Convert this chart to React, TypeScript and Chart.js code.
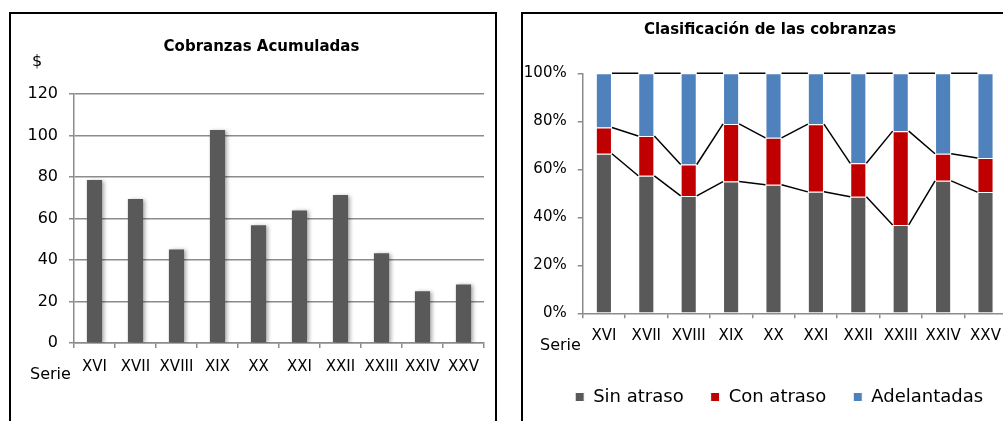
import React, { useEffect, useRef } from 'react';
import { Chart, registerables } from 'chart.js';

Chart.register(...registerables);

// ---- data ----
const series = ['XVI', 'XVII', 'XVIII', 'XIX', 'XX', 'XXI', 'XXII', 'XXIII', 'XXIV', 'XXV'];
const cobranzas = [78.6, 69.4, 45.1, 102.7, 56.7, 63.9, 71.3, 43.2, 25.0, 28.2];
const sinAtraso = [66.5, 57.3, 48.9, 54.9, 53.6, 50.6, 48.6, 36.8, 55.2, 50.5];
const conAtraso = [10.9, 16.6, 13.1, 24.0, 19.5, 28.2, 13.9, 39.1, 11.3, 14.2];
const adelantadas = [22.6, 26.1, 38.0, 21.1, 26.9, 21.2, 37.5, 24.1, 33.5, 35.3];
const leftTicks = [0, 20, 40, 60, 80, 100, 120];
const rightTicks = [0, 20, 40, 60, 80, 100];
const leftTitle = 'Cobranzas Acumuladas';
const rightTitle = 'Clasificación de las cobranzas';
const legendNames = ['Sin atraso', 'Con atraso', 'Adelantadas'];
const colors = ['#595959', '#C00000', '#4F81BD'];

const FONT = "'DejaVu Sans', sans-serif";
const GRID = '#8c8c8c';

type TextItem = { text: string; x: number; y: number; font: string; align: CanvasTextAlign };

const textPlugin = (id: string, items: TextItem[]) => ({
  id,
  afterDraw(chart: any) {
    const ctx = chart.ctx;
    ctx.save();
    ctx.fillStyle = '#000';
    ctx.textBaseline = 'middle';
    items.forEach((t) => {
      ctx.font = t.font;
      ctx.textAlign = t.align;
      ctx.fillText(t.text, t.x, t.y);
    });
    ctx.restore();
  },
});

const shadowPlugin = {
  id: 'barShadow',
  beforeDatasetsDraw(chart: any) {
    const ctx = chart.ctx;
    ctx.save();
    ctx.shadowColor = 'rgba(0,0,0,0.35)';
    ctx.shadowBlur = 4;
    ctx.shadowOffsetX = 2;
    ctx.shadowOffsetY = 1;
  },
  afterDatasetsDraw(chart: any) {
    chart.ctx.restore();
  },
};

const seriesLinesPlugin = {
  id: 'seriesLines',
  afterDatasetsDraw(chart: any) {
    const ctx = chart.ctx;
    ctx.save();
    ctx.strokeStyle = '#000';
    ctx.lineWidth = 1.5;
    chart.data.datasets.forEach((_: any, d: number) => {
      const els = chart.getDatasetMeta(d).data as any[];
      ctx.beginPath();
      for (let i = 0; i < els.length - 1; i++) {
        const a = els[i];
        const b = els[i + 1];
        ctx.moveTo(a.x + a.width / 2, a.y);
        ctx.lineTo(b.x - b.width / 2, b.y);
      }
      ctx.stroke();
    });
    ctx.restore();
  },
};

export default function App() {
  const leftRef = useRef<HTMLCanvasElement>(null);
  const rightRef = useRef<HTMLCanvasElement>(null);

  useEffect(() => {
    const left = new Chart(leftRef.current!, {
      type: 'bar',
      data: {
        labels: series,
        datasets: [
          {
            data: cobranzas,
            backgroundColor: colors[0],
            barPercentage: 0.37,
            categoryPercentage: 1,
          },
        ],
      },
      options: {
        animation: false,
        responsive: false,
        layout: { padding: { left: 0, right: 10, top: 79, bottom: 48 } },
        plugins: {
          legend: { display: false },
          title: { display: false },
          tooltip: { enabled: false },
        },
        scales: {
          x: {
            grid: { drawOnChartArea: false, tickLength: 5, color: GRID, lineWidth: 1.5 },
            border: { color: GRID, width: 1.5 },
            ticks: {
              color: '#000',
              font: { family: FONT, size: 15 },
              padding: 10,
              maxRotation: 0,
              minRotation: 0,
              autoSkip: false,
            },
            afterFit: (s: any) => {
              s.height = 30;
            },
          },
          y: {
            min: leftTicks[0],
            max: leftTicks[leftTicks.length - 1],
            afterBuildTicks: (s: any) => {
              s.ticks = leftTicks.map((v) => ({ value: v }));
            },
            ticks: { color: '#000', font: { family: FONT, size: 16 }, padding: 11 },
            grid: { color: GRID, lineWidth: 1.5, tickLength: 5 },
            border: { color: GRID, width: 1.5 },
            afterFit: (s: any) => {
              s.width = 62;
            },
          },
        },
      },
      plugins: [
        shadowPlugin,
        textPlugin('leftText', [
          { text: leftTitle, x: 249.5, y: 32, font: `bold 15px ${FONT}`, align: 'center' },
          { text: '$', x: 25, y: 47, font: `16px ${FONT}`, align: 'center' },
          { text: 'Serie', x: 18, y: 360, font: `16px ${FONT}`, align: 'left' },
        ]),
      ],
    } as any);

    const right = new Chart(rightRef.current!, {
      type: 'bar',
      data: {
        labels: series,
        datasets: [sinAtraso, conAtraso, adelantadas].map((d, i) => ({
          label: legendNames[i],
          data: d,
          backgroundColor: colors[i],
          borderColor: '#ffffff',
          borderWidth: 1,
          barPercentage: 0.38,
          categoryPercentage: 1,
        })),
      },
      options: {
        animation: false,
        responsive: false,
        layout: { padding: { left: 0, right: 9.7, top: 58.3, bottom: 5 } },
        plugins: {
          legend: {
            position: 'bottom',
            labels: {
              boxWidth: 9,
              boxHeight: 9,
              padding: 27,
              color: '#000',
              font: { family: FONT, size: 18 },
            },
          },
          title: { display: false },
          tooltip: { enabled: false },
        },
        scales: {
          x: {
            stacked: true,
            grid: { drawOnChartArea: false, tickLength: 5, color: GRID, lineWidth: 1.5 },
            border: { color: GRID, width: 1.5 },
            ticks: {
              color: '#000',
              font: { family: FONT, size: 15 },
              padding: 9,
              maxRotation: 0,
              minRotation: 0,
              autoSkip: false,
            },
            afterFit: (s: any) => {
              s.height = 47.7;
            },
          },
          y: {
            stacked: true,
            min: rightTicks[0],
            max: rightTicks[rightTicks.length - 1],
            afterBuildTicks: (s: any) => {
              s.ticks = rightTicks.map((v) => ({ value: v }));
            },
            ticks: {
              color: '#000',
              font: { family: FONT, size: 15 },
              padding: 11,
              callback: (v: any) => `${v}%`,
            },
            grid: { drawOnChartArea: false, tickLength: 5, color: GRID, lineWidth: 1.5 },
            border: { color: GRID, width: 1.5 },
            afterFit: (s: any) => {
              s.width = 58.7;
            },
          },
          spacer: {
            type: 'linear',
            position: 'right',
            display: true,
            grid: { display: false },
            border: { display: false },
            ticks: { display: false },
            afterFit: (s: any) => {
              s.width = 27.6;
            },
          },
        },
      },
      plugins: [
        seriesLinesPlugin,
        textPlugin('rightText', [
          { text: rightTitle, x: 246, y: 15, font: `bold 15px ${FONT}`, align: 'center' },
          { text: 'Serie', x: 16, y: 330.7, font: `16px ${FONT}`, align: 'left' },
        ]),
      ],
    } as any);

    return () => {
      left.destroy();
      right.destroy();
    };
  }, []);

  return (
    <div
      style={{
        position: 'absolute',
        left: 0,
        top: 0,
        width: 1003,
        height: 421,
        overflow: 'hidden',
        background: '#fff',
      }}
    >
      <div
        style={{
          position: 'absolute',
          left: 9,
          top: 12,
          width: 484,
          height: 420,
          border: '2px solid #000',
        }}
      />
      <div
        style={{
          position: 'absolute',
          left: 521,
          top: 12,
          width: 600,
          height: 420,
          border: '2px solid #000',
        }}
      />
      <canvas
        ref={leftRef}
        width={482}
        height={406}
        style={{ position: 'absolute', left: 12, top: 15, display: 'block' }}
      />
      <canvas
        ref={rightRef}
        width={520}
        height={406}
        style={{ position: 'absolute', left: 524, top: 15, display: 'block' }}
      />
    </div>
  );
}
